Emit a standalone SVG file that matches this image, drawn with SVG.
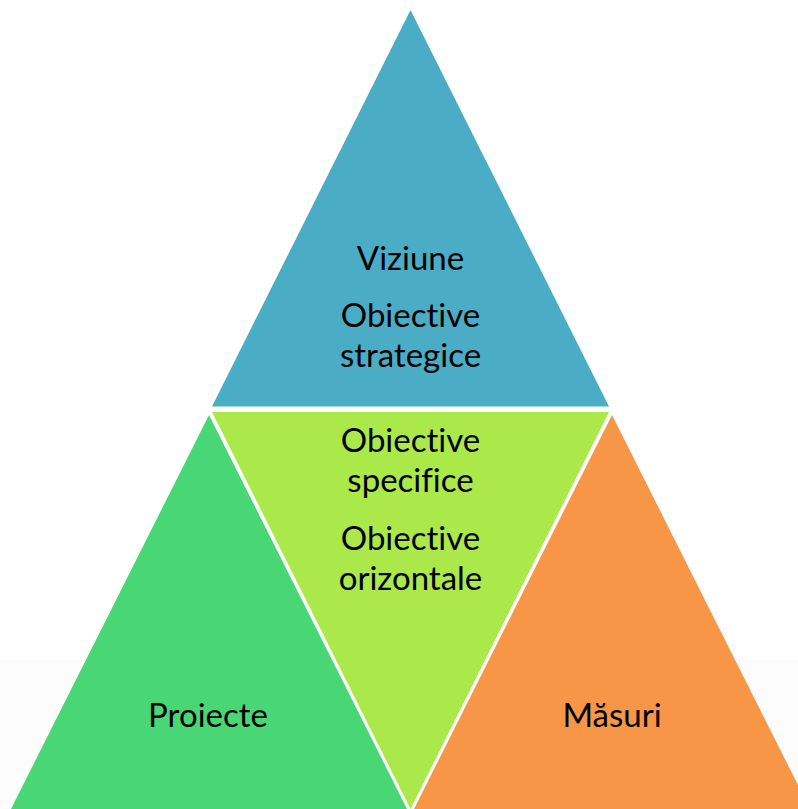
<svg xmlns="http://www.w3.org/2000/svg" width="798" height="809" viewBox="0 0 798 809">
<style>
text{font-family:Lato,"Open Sans","Liberation Sans",sans-serif;font-size:33px;fill:#000;text-anchor:middle;font-variant-ligatures:none;font-feature-settings:"liga" 0,"dlig" 0}
</style>
<rect x="0" y="0" width="798" height="809" fill="#ffffff"/>
<rect x="0" y="660" width="798" height="149" fill="#fcfcfc"/>
<g id="top">
<polygon points="410.5,10 212,406.5 609,406.5" fill="#4BACC6"/>
<text x="410.5" y="270">Viziune</text>
<text x="410.5" y="327">Obiective</text>
<text x="410.5" y="367">strategice</text>
</g>
<g id="center">
<polygon points="212,412 609,412 410.5,809" fill="#ABE84A"/>
<text x="410.5" y="452">Obiective</text>
<text x="410.5" y="492">specifice</text>
<text x="410.5" y="550">Obiective</text>
<text x="410.5" y="590">orizontale</text>
</g>
<g id="left">
<polygon points="209,415 11,809 407,809" fill="#49D775"/>
<text x="208" y="727">Proiecte</text>
</g>
<g id="right">
<polygon points="612,415 414,809 810,809" fill="#F79646"/>
<text x="612" y="727">Măsuri</text>
</g>
<g id="connectors"></g>
</svg>
